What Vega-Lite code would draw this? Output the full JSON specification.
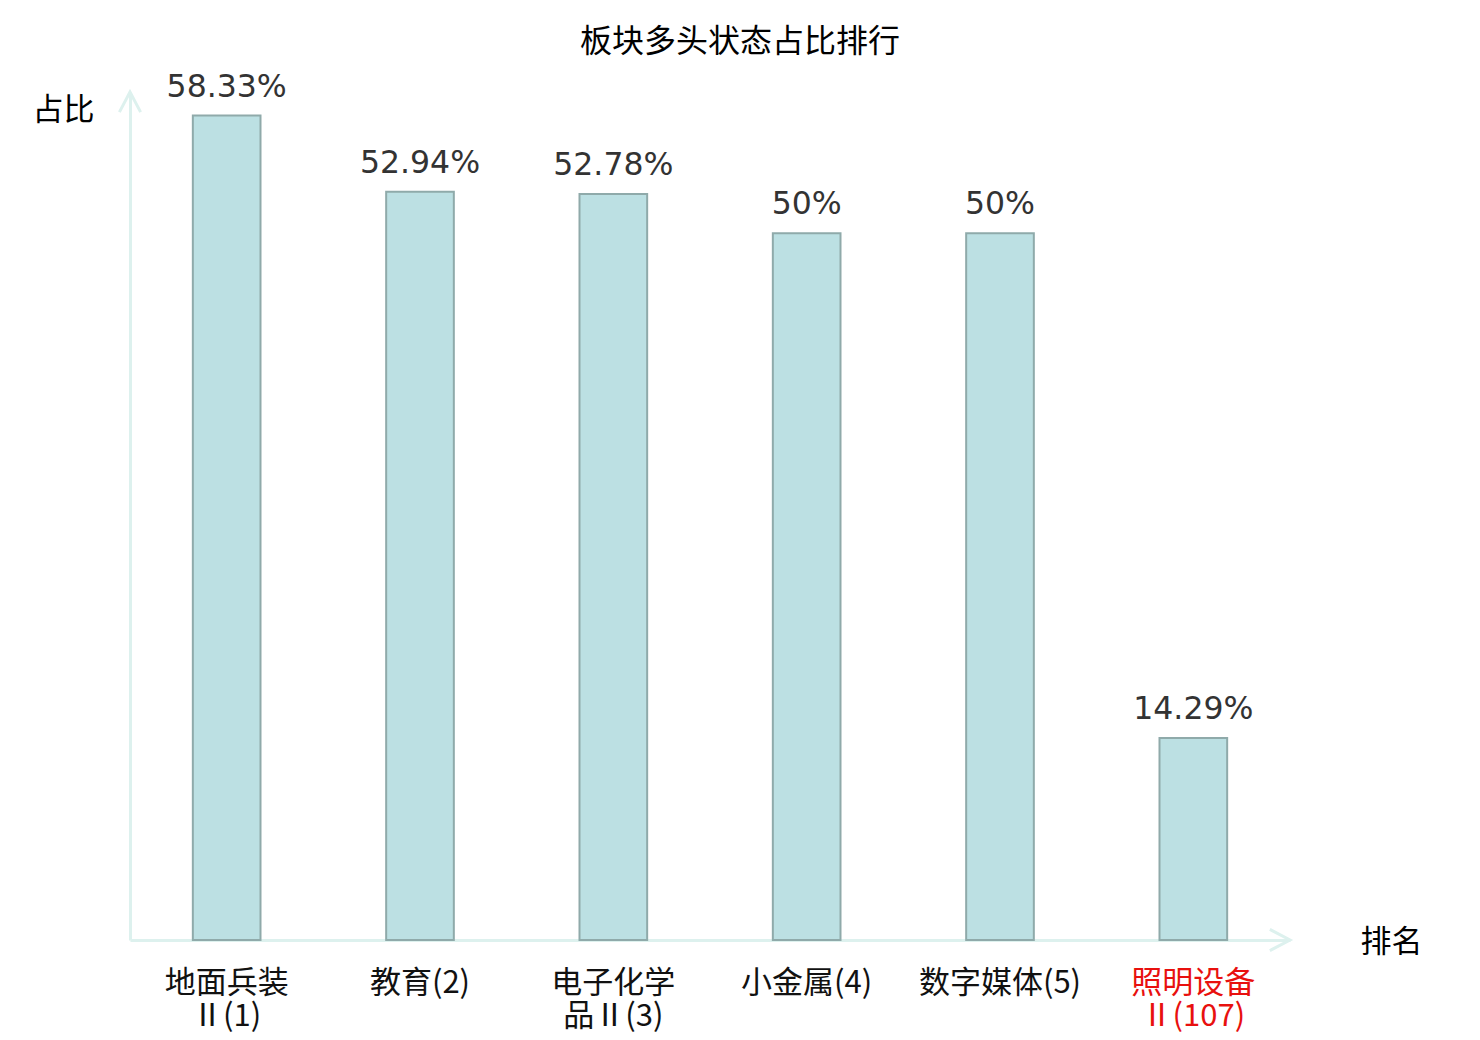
{
  "$schema": "https://vega.github.io/schema/vega-lite/v6.json",
  "width": 1160,
  "height": 848,
  "autosize": {"type": "none"},
  "padding": {"left": 130, "top": 92, "right": 190, "bottom": 100},
  "background": "white",
  "title": {
    "text": "板块多头状态占比排行",
    "font": "Noto Sans CJK SC",
    "fontSize": 32,
    "fontWeight": "normal",
    "color": "#000000",
    "anchor": "middle",
    "dx": 30,
    "offset": 13
  },
  "config": {
    "view": {"stroke": null},
    "font": "DejaVu Sans"
  },
  "layer": [
    {
      "data": {
        "values": [
          {"name": "地面兵装Ⅱ(1)", "ratio": 0.5833},
          {"name": "教育(2)", "ratio": 0.5294},
          {"name": "电子化学品Ⅱ(3)", "ratio": 0.5278},
          {"name": "小金属(4)", "ratio": 0.5},
          {"name": "数字媒体(5)", "ratio": 0.5},
          {"name": "照明设备Ⅱ(107)", "ratio": 0.1429}
        ]
      },
      "encoding": {
        "x": {
          "field": "name",
          "type": "nominal",
          "sort": null,
          "scale": {"paddingInner": 0.65, "paddingOuter": 0.325},
          "axis": {
            "title": "排名",
            "titleFont": "Noto Sans CJK SC",
            "titleFontSize": 31,
            "titleFontWeight": "normal",
            "titleColor": "#000000",
            "titleAngle": 0,
            "titleX": 1261,
            "titleY": 2,
            "titleAlign": "center",
            "titleBaseline": "middle",
            "labelAngle": 0,
            "labelFont": "Noto Sans CJK SC",
            "labelFontSize": 31,
            "labelColor": {
              "condition": {"test": "datum.value == '照明设备Ⅱ(107)'", "value": "#e8100e"},
              "value": "#111111"
            },
            "labelPadding": 28,
            "labelLineHeight": 33,
            "labelExpr": "length(datum.label) > 7 ? [substring(datum.label, 0, 4), substring(datum.label, 4)] : datum.label",
            "ticks": false,
            "domainColor": "#ddf1ee",
            "domainWidth": 3,
            "grid": false
          }
        },
        "y": {
          "field": "ratio",
          "type": "quantitative",
          "scale": {"domain": [0, 0.6], "nice": false},
          "axis": {
            "title": "占比",
            "titleFont": "Noto Sans CJK SC",
            "titleFontSize": 31,
            "titleFontWeight": "normal",
            "titleColor": "#000000",
            "titleAngle": 0,
            "titleX": -67,
            "titleY": 18,
            "titleAlign": "center",
            "titleBaseline": "middle",
            "labels": false,
            "ticks": false,
            "grid": false,
            "domainColor": "#ddf1ee",
            "domainWidth": 3
          }
        }
      },
      "layer": [
        {
          "mark": {"type": "bar", "fill": "#bce0e3", "stroke": "#8faaaa", "strokeWidth": 2}
        },
        {
          "mark": {"type": "text", "baseline": "alphabetic", "dy": -19, "fontSize": 31.5, "color": "#333333", "font": "DejaVu Sans"},
          "encoding": {
            "text": {"field": "ratio", "type": "quantitative", "format": ".2~%"}
          }
        }
      ]
    },
    {
      "data": {
        "values": [
          {"ax": 0, "ay": 0.6, "dir": "up"},
          {"ax": 1, "ay": 0, "dir": "right"}
        ]
      },
      "mark": {"type": "point", "filled": false, "strokeWidth": 3, "size": 450, "color": "#ddf1ee", "opacity": 1},
      "encoding": {
        "x": {"field": "ax", "type": "quantitative", "scale": {"domain": [0, 1], "nice": false, "zero": false}, "axis": null},
        "y": {"field": "ay", "type": "quantitative"},
        "shape": {
          "field": "dir",
          "type": "nominal",
          "scale": {"domain": ["up", "right"], "range": ["M-1,1.9L0,0L1,1.9", "M-1.9,-1L0,0L-1.9,1"]},
          "legend": null
        }
      }
    }
  ],
  "resolve": {"scale": {"x": "independent"}}
}
